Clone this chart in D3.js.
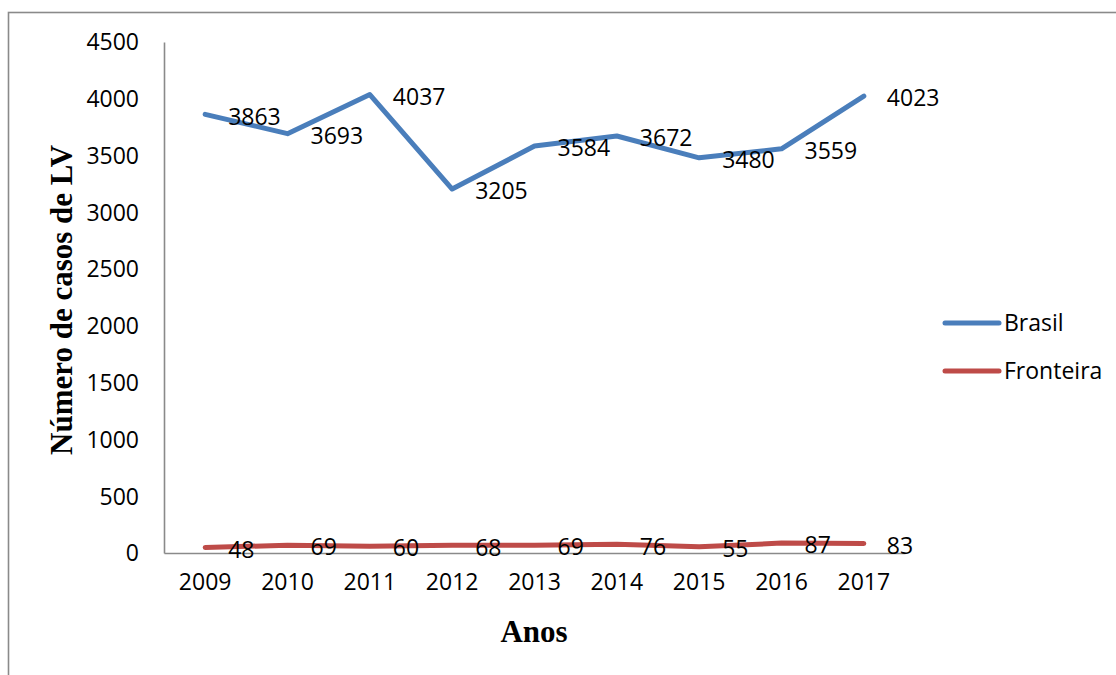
<!DOCTYPE html>
<html>
<head>
<meta charset="utf-8">
<script src="https://cdn.jsdelivr.net/npm/d3@7"></script>
<style>
  html, body { margin: 0; padding: 0; background: #fff; }
  svg { display: block; }
</style>
</head>
<body>
<svg id="chart" width="1116" height="675"></svg>
<script>
// Leishmaniose visceral: casos no Brasil e na fronteira, 2009–2017
const years = ["2009", "2010", "2011", "2012", "2013", "2014", "2015", "2016", "2017"];
const brasil = [3863, 3693, 4037, 3205, 3584, 3672, 3480, 3559, 4023];
const fronteira = [48, 69, 60, 68, 69, 76, 55, 87, 83];
const yTicks = [0, 500, 1000, 1500, 2000, 2500, 3000, 3500, 4000, 4500];
const seriesNames = ["Brasil", "Fronteira"];
const seriesColors = ["#4a7ebb", "#be4b48"];

const series = [
  { name: seriesNames[0], values: brasil, color: seriesColors[0] },
  { name: seriesNames[1], values: fronteira, color: seriesColors[1] }
];

const svg = d3.select("#chart");
const numFont = "'Open Sans', 'Liberation Sans', sans-serif";
const titleFont = "'Liberation Serif', 'Times New Roman', serif";
const axisGray = "#8a8a8a";

// outer frame (only left and top edges fall inside the view)
svg.append("rect")
  .attr("x", 8.5).attr("y", 12.5)
  .attr("width", 1200).attr("height", 800)
  .attr("fill", "none")
  .attr("stroke", axisGray)
  .attr("stroke-width", 1.6);

const plot = { left: 164, right: 905, top: 42, bottom: 553 };

const x = d3.scaleBand().domain(years).range([plot.left, plot.right]);
const y = d3.scaleLinear().domain([0, 4500]).range([plot.bottom, plot.top]);
const cx = d => x(d) + x.bandwidth() / 2;

// y axis
const yAxis = svg.append("g")
  .attr("transform", `translate(${plot.left},0)`)
  .call(d3.axisLeft(y).tickValues(yTicks).tickSize(0).tickPadding(25).tickFormat(d3.format("d")));
yAxis.select(".domain").attr("stroke", axisGray).attr("stroke-width", 1.6);
yAxis.selectAll("text")
  .attr("font-family", numFont).attr("font-size", 23).attr("fill", "#000")
  .attr("dy", "0.34em");

// x axis
const xAxis = svg.append("g")
  .attr("transform", `translate(0,${plot.bottom})`)
  .call(d3.axisBottom(x).tickSize(0).tickPadding(20));
xAxis.select(".domain").attr("stroke", axisGray).attr("stroke-width", 1.6);
xAxis.selectAll("text")
  .attr("font-family", numFont).attr("font-size", 23).attr("fill", "#000")
  .attr("dy", "0.75em");

// axis titles
svg.append("text")
  .attr("transform", "translate(72,300) rotate(-90)")
  .attr("text-anchor", "middle")
  .attr("font-family", titleFont).attr("font-weight", "bold").attr("font-size", 31)
  .attr("fill", "#000")
  .text("Número de casos de LV");

svg.append("text")
  .attr("x", 534).attr("y", 642)
  .attr("text-anchor", "middle")
  .attr("font-family", titleFont).attr("font-weight", "bold").attr("font-size", 31)
  .attr("fill", "#000")
  .text("Anos");

// lines
const line = d3.line()
  .x((d, i) => cx(years[i]))
  .y(d => y(d));

series.forEach(s => {
  svg.append("path")
    .datum(s.values)
    .attr("d", line)
    .attr("fill", "none")
    .attr("stroke", s.color)
    .attr("stroke-width", 5)
    .attr("stroke-linecap", "round")
    .attr("stroke-linejoin", "round");
});

// value labels, to the right of each point
series.forEach(s => {
  svg.append("g").selectAll("text")
    .data(s.values)
    .join("text")
    .attr("x", (d, i) => cx(years[i]) + 23)
    .attr("y", d => y(d) + 2)
    .attr("dy", "0.36em")
    .attr("font-family", numFont).attr("font-size", 23).attr("fill", "#000")
    .text(d => d);
});

// legend
const legend = svg.append("g");
series.forEach((s, i) => {
  const ly = 323 + i * 48;
  legend.append("line")
    .attr("x1", 945).attr("x2", 999)
    .attr("y1", ly).attr("y2", ly)
    .attr("stroke", s.color).attr("stroke-width", 5)
    .attr("stroke-linecap", "round");
  legend.append("text")
    .attr("x", 1004).attr("y", ly)
    .attr("dy", "0.36em")
    .attr("font-family", numFont).attr("font-size", 23).attr("fill", "#000")
    .text(s.name);
});
</script>
</body>
</html>
